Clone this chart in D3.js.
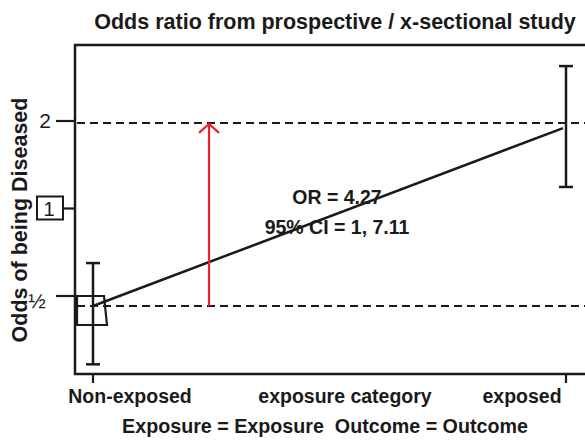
<!DOCTYPE html>
<html><head><meta charset="utf-8">
<script src="https://cdn.jsdelivr.net/npm/d3@7"></script>
<style>body{margin:0;background:#fff}svg{display:block}text{font-family:"Liberation Sans",Arial,sans-serif;fill:#1a1a1a;white-space:pre}</style>
</head><body>
<script>
const categories = ["Non-exposed", "exposed"];
const catPos = [0, 1];
const odds = [0.462, 1.89];
const ciLow = [0.291, 1.186];
const ciHigh = [0.649, 3.09];
const refLines = [0.462, 1.97];
const yTickValues = [0.5, 1, 2];
const yTickLabels = ["½", "1", "2"];
const annotation = ["OR = 4.27", "95% CI = 1, 7.11"];
const title = "Odds ratio from prospective / x-sectional study";
const xTitle = "exposure category";
const subTitle = "Exposure = Exposure  Outcome = Outcome";
const yTitle = "Odds of being Diseased";

(function () {
const W = 585, H = 440;
const svg = d3.select("body").append("svg").attr("width", W).attr("height", H);

const x = d3.scaleLinear().domain([0, 1]).range([93, 566]);
const y = d3.scaleLog().base(2).domain([0.5, 2]).range([296, 121]);
const pLeft = 75, pTop = 45, pBottom = 374, pRight = 600;
const ink = "#1a1a1a";

svg.append("rect").attr("x", pLeft).attr("y", pTop).attr("width", pRight - pLeft).attr("height", pBottom - pTop)
  .attr("fill", "none").attr("stroke", ink).attr("stroke-width", 2.5);

svg.selectAll(".ref").data(refLines).join("line")
  .attr("x1", pLeft + 2).attr("x2", pRight).attr("y1", d => y(d)).attr("y2", d => y(d))
  .attr("stroke", ink).attr("stroke-width", 2).attr("stroke-dasharray", "8,5");

yTickValues.forEach((v, i) => {
  const yy = y(v);
  const isOne = v === 1;
  svg.append("line").attr("x1", isOne ? 63 : 56).attr("x2", pLeft).attr("y1", yy).attr("y2", yy)
    .attr("stroke", ink).attr("stroke-width", 2.2);
  if (isOne) {
    svg.append("rect").attr("x", 37).attr("y", yy - 12).attr("width", 26).attr("height", 23)
      .attr("fill", "none").attr("stroke", ink).attr("stroke-width", 2);
    svg.append("text").attr("x", 49).attr("y", yy + 7).attr("text-anchor", "middle")
      .attr("font-size", 20).text(yTickLabels[i]);
  } else if (v === 2) {
    svg.append("text").attr("x", 45).attr("y", yy + 7).attr("text-anchor", "middle")
      .attr("font-size", 21).text(yTickLabels[i]);
  } else {
    svg.append("text").attr("x", 37).attr("y", yy + 12).attr("text-anchor", "middle")
      .attr("font-size", 21).text(yTickLabels[i]);
  }
});

catPos.forEach(c => {
  svg.append("line").attr("x1", x(c)).attr("x2", x(c)).attr("y1", pBottom).attr("y2", pBottom + 9)
    .attr("stroke", ink).attr("stroke-width", 2.2);
});

catPos.forEach((c, i) => {
  const xx = x(c);
  const g = svg.append("g").attr("stroke", ink).attr("stroke-width", 2.5);
  g.append("line").attr("x1", xx).attr("x2", xx).attr("y1", y(ciLow[i])).attr("y2", y(ciHigh[i]));
  g.append("line").attr("x1", xx - 7).attr("x2", xx + 7).attr("y1", y(ciLow[i])).attr("y2", y(ciLow[i]));
  g.append("line").attr("x1", xx - 7).attr("x2", xx + 7).attr("y1", y(ciHigh[i])).attr("y2", y(ciHigh[i]));
});

svg.append("path")
  .attr("d", `M${x(0) - 16},${y(odds[0]) - 10} L${x(0) + 11},${y(odds[0]) - 10} L${x(0) + 14},${y(odds[0]) + 19} L${x(0) - 16},${y(odds[0]) + 19} Z`)
  .attr("fill", "none").attr("stroke", ink).attr("stroke-width", 2.2);

svg.append("line").attr("x1", x(0)).attr("y1", y(odds[0])).attr("x2", x(1) - 3).attr("y2", y(odds[1]))
  .attr("stroke", ink).attr("stroke-width", 2.5);

const ax = 209;
svg.append("line").attr("x1", ax).attr("x2", ax).attr("y1", y(refLines[0])).attr("y2", y(refLines[1]) + 1)
  .attr("stroke", "#e8232a").attr("stroke-width", 2.2);
svg.append("path").attr("d", `M${ax - 10},${y(refLines[1]) + 10} L${ax},${y(refLines[1]) + 1} L${ax + 10},${y(refLines[1]) + 10}`)
  .attr("fill", "none").attr("stroke", "#e8232a").attr("stroke-width", 2.2);

annotation.forEach((t, i) => {
  svg.append("text").attr("x", 337).attr("y", 204 + i * 30).attr("text-anchor", "middle")
    .attr("font-size", 19.5).attr("font-weight", "bold").text(t);
});

svg.append("text").attr("x", 335).attr("y", 29).attr("text-anchor", "middle")
  .attr("font-size", 21.5).attr("font-weight", "bold").text(title);

svg.append("text").attr("x", 130).attr("y", 403).attr("text-anchor", "middle")
  .attr("font-size", 19.5).attr("font-weight", "bold").text(categories[0]);
svg.append("text").attr("x", 345).attr("y", 403).attr("text-anchor", "middle")
  .attr("font-size", 19.5).attr("font-weight", "bold").text(xTitle);
svg.append("text").attr("x", 522).attr("y", 403).attr("text-anchor", "middle")
  .attr("font-size", 19.5).attr("font-weight", "bold").text(categories[1]);
svg.append("text").attr("x", 325).attr("y", 433).attr("text-anchor", "middle")
  .attr("font-size", 19.7).attr("font-weight", "bold").text(subTitle);

svg.append("text").attr("transform", "translate(27,220) rotate(-90)").attr("text-anchor", "middle")
  .attr("font-size", 21.5).attr("font-weight", "bold").text(yTitle);
})();
</script>
</body></html>
